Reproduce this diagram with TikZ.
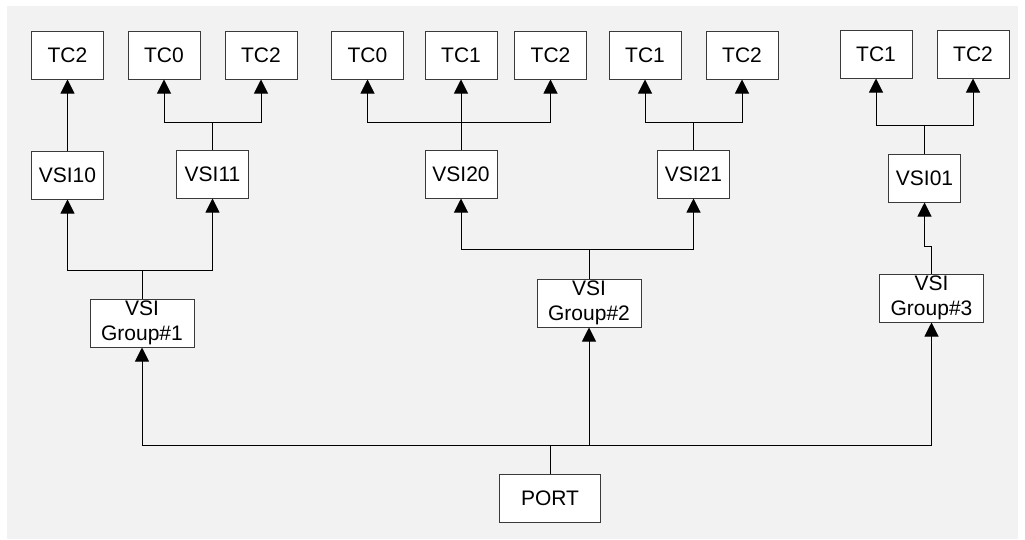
\documentclass[tikz,border=0pt]{standalone}
\usepackage{fontspec}
\setmainfont{Liberation Sans}
\usetikzlibrary{arrows.meta}
\definecolor{bg}{HTML}{F2F2F2}
\definecolor{boxline}{HTML}{3A3A3A}
\tikzset{
  box/.style={draw=boxline, line width=1pt, fill=white, minimum height=48pt, inner sep=0pt,
    font=\fontsize{21}{25}\selectfont, align=center},
  tc/.style={box, minimum width=72pt},
  grp/.style={box, minimum width=104pt},
  conn/.style={draw=black, line width=1pt},
  arr/.style={conn, -{Triangle[length=14pt,width=14pt]}}
}
\begin{document}
\begin{tikzpicture}[x=1pt,y=-1pt]
\useasboundingbox (0,0) rectangle (1025,539);
\fill[bg] (7,6) rectangle (1018,539);
% top row
\node[tc] (t1) at (67.5,55) {TC2};
\node[tc] (t2) at (164,55) {TC0};
\node[tc] (t3) at (261,55) {TC2};
\node[tc] (t4) at (367.5,55) {TC0};
\node[tc] (t5) at (461,55) {TC1};
\node[tc] (t6) at (550.5,55) {TC2};
\node[tc] (t7) at (645,55) {TC1};
\node[tc] (t8) at (742,55) {TC2};
\node[tc] (t9) at (876,54) {TC1};
\node[tc] (t10) at (973,54) {TC2};
% VSI row
\node[tc] (v10) at (67.5,175) {VSI10};
\node[tc] (v11) at (212.5,174) {VSI11};
\node[tc] (v20) at (461,174) {VSI20};
\node[tc] (v21) at (693.5,174) {VSI21};
\node[tc] (v01) at (924.5,178) {VSI01};
% groups
\node[grp] (g1) at (142,323) {VSI\\Group\#1};
\node[grp] (g2) at (589,303) {VSI\\Group\#2};
\node[grp] (g3) at (931.5,298) {VSI\\Group\#3};
\node[grp, minimum width=101pt] (port) at (550,498) {PORT};
% junctions
\coordinate (bus) at (550,445);
\coordinate (j1) at (142,270);
\coordinate (j2) at (589,249.5);
\coordinate (j3a) at (931.5,246);
\coordinate (j3b) at (924.5,246);
\coordinate (k11) at (212.5,122);
\coordinate (k20) at (461,122);
\coordinate (k21) at (693.5,122);
\coordinate (k01) at (924.5,125.5);
% PORT to groups
\draw[arr] (port.north) -- (bus) -| (g1.south);
\draw[arr] (bus) -| (g2.south);
\draw[arr] (bus) -| (g3.south);
% groups to VSIs
\draw[conn] (g1.north) -- (j1);
\draw[arr] (j1) -| (v10.south);
\draw[arr] (j1) -| (v11.south);
\draw[conn] (g2.north) -- (j2);
\draw[arr] (j2) -| (v20.south);
\draw[arr] (j2) -| (v21.south);
\draw[arr] (g3.north) -- (j3a) -- (j3b) -- (v01.south);
% VSIs to TCs
\draw[arr] (v10.north) -- (t1.south);
\draw[conn] (v11.north) -- (k11);
\draw[arr] (k11) -| (t2.south);
\draw[arr] (k11) -| (t3.south);
\draw[arr] (v20.north) -- (t5.south);
\draw[arr] (k20) -| (t4.south);
\draw[arr] (k20) -| (t6.south);
\draw[conn] (v21.north) -- (k21);
\draw[arr] (k21) -| (t7.south);
\draw[arr] (k21) -| (t8.south);
\draw[conn] (v01.north) -- (k01);
\draw[arr] (k01) -| (t9.south);
\draw[arr] (k01) -| (t10.south);
\end{tikzpicture}
\end{document}
